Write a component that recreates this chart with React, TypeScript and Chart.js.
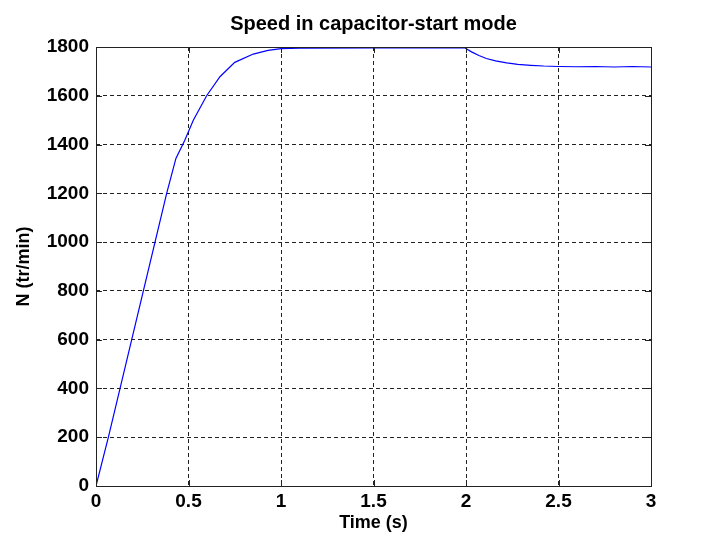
import React, { useEffect, useRef } from "react";
import { Chart, registerables } from "chart.js";

Chart.register(...registerables);

const TITLE = "Speed in capacitor-start mode";
const X_LABEL = "Time (s)";
const Y_LABEL = "N (tr/min)";

const timeS = [
  0, 0.067, 0.13, 0.193, 0.256, 0.319, 0.382, 0.432, 0.48, 0.526, 0.598, 0.67, 0.75, 0.85,
  0.93, 1.0, 1.1, 1.5, 1.995, 2.03, 2.07, 2.11, 2.16, 2.22, 2.28, 2.35, 2.42, 2.5, 2.6, 2.7,
  2.8, 2.9, 3.0,
];
const speedN = [
  0, 200, 400, 600, 800, 1000, 1200, 1343, 1418, 1500, 1600, 1678, 1737, 1771, 1786, 1793,
  1795, 1796, 1796, 1780, 1765, 1753, 1743, 1735, 1729, 1725, 1722, 1720, 1719, 1720, 1718,
  1720, 1718,
];

const FONT = "'Liberation Sans', Arial, Helvetica, sans-serif";

const boxPlugin = {
  id: "matlabBox",
  afterDraw(chart: any) {
    const { ctx, chartArea } = chart;
    const { left, right, top, bottom } = chartArea;
    const xs = chart.scales.x;
    const ys = chart.scales.y;
    ctx.save();
    ctx.strokeStyle = "#222222";
    ctx.lineWidth = 1;
    ctx.setLineDash([]);
    ctx.beginPath();
    const tl = 6;
    xs.ticks.forEach((t: any) => {
      const px = Math.round(xs.getPixelForValue(t.value)) + 0.5;
      ctx.moveTo(px, bottom);
      ctx.lineTo(px, bottom - tl);
      ctx.moveTo(px, top);
      ctx.lineTo(px, top + tl);
    });
    ys.ticks.forEach((t: any) => {
      const py = Math.round(ys.getPixelForValue(t.value)) + 0.5;
      ctx.moveTo(left, py);
      ctx.lineTo(left + tl, py);
      ctx.moveTo(right, py);
      ctx.lineTo(right - tl, py);
    });
    ctx.stroke();
    ctx.strokeRect(Math.round(left) + 0.5, Math.round(top) + 0.5, Math.round(right - left), Math.round(bottom - top));
    ctx.restore();
  },
};

export default function App() {
  const ref = useRef<HTMLCanvasElement>(null);

  useEffect(() => {
    if (!ref.current) return;
    const chart = new Chart(ref.current, {
      type: "line",
      data: {
        datasets: [
          {
            data: timeS.map((t, i) => ({ x: t, y: speedN[i] })),
            borderColor: "#0000ff",
            borderWidth: 1.2,
            pointRadius: 0,
            tension: 0,
            fill: false,
          },
        ],
      },
      options: {
        responsive: false,
        animation: false,
        layout: { padding: { left: 0, right: 59, top: 5, bottom: 0 } },
        plugins: {
          legend: { display: false },
          tooltip: { enabled: false },
          title: {
            display: true,
            fullSize: false,
            text: TITLE,
            color: "#000000",
            font: { family: FONT, size: 20, weight: "bold" },
            padding: { top: 7, bottom: 11 },
          },
        },
        scales: {
          x: {
            type: "linear",
            min: 0,
            max: 3,
            afterFit(scale: any) {
              scale.height = 53;
            },
            ticks: {
              stepSize: 0.5,
              color: "#000000",
              font: { family: FONT, size: 19, weight: "bold" },
              padding: 4,
              maxRotation: 0,
              callback: (v: any) => String(v),
            },
            grid: { color: "#222222", lineWidth: 1, drawTicks: false },
            border: { display: false, dash: [4, 3] },
            title: {
              display: true,
              text: X_LABEL,
              color: "#000000",
              font: { family: FONT, size: 18, weight: "bold" },
              padding: { top: 5, bottom: 5 },
            },
          },
          y: {
            type: "linear",
            min: 0,
            max: 1800,
            afterFit(scale: any) {
              scale.width = 96;
            },
            ticks: {
              stepSize: 200,
              color: "#000000",
              font: { family: FONT, size: 19, weight: "bold" },
              padding: 7,
              callback: (v: any) => String(v),
            },
            grid: { color: "#222222", lineWidth: 1, drawTicks: false },
            border: { display: false, dash: [4, 3] },
            title: {
              display: true,
              text: Y_LABEL,
              color: "#000000",
              font: { family: FONT, size: 18, weight: "bold" },
              padding: { top: 13, bottom: 0 },
            },
          },
        },
      },
      plugins: [boxPlugin],
    });
    return () => chart.destroy();
  }, []);

  return (
    <div style={{ position: "fixed", left: 0, top: 0, width: 710, height: 539, background: "#ffffff" }}>
      <canvas ref={ref} width={710} height={539} />
    </div>
  );
}
